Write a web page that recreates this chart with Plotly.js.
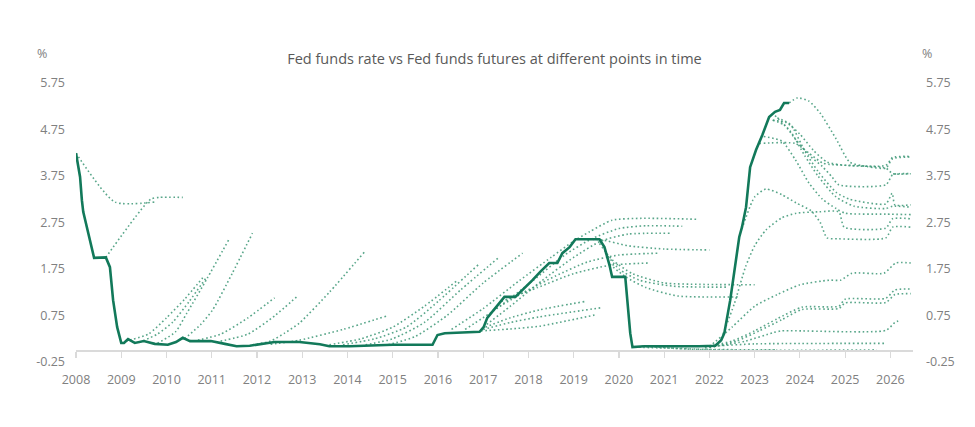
<!DOCTYPE html>
<html>
<head>
<meta charset="utf-8">
<script src="https://cdn.plot.ly/plotly-3.0.1.min.js"></script>
<style>html,body{margin:0;padding:0;background:#fff;}#chart{width:975px;height:427px;}</style>
</head>
<body>
<div id="chart"></div>
<script>
// ---------- data ----------
const chartTitle = "Fed funds rate vs Fed funds futures at different points in time";
const yearTicks = [2008,2009,2010,2011,2012,2013,2014,2015,2016,2017,2018,2019,2020,2021,2022,2023,2024,2025,2026];
const yearLabels = yearTicks.map(String);
const rateTicks = [-0.25,0.75,1.75,2.75,3.75,4.75,5.75];
const rateLabels = ["-0.25","0.75","1.75","2.75","3.75","4.75","5.75"];

// Fed funds rate [year, %]
const fedFundsRate = [[2008.0,4.24],[2008.09,3.73],[2008.13,3.23],[2008.16,2.98],[2008.40,1.99],[2008.66,2.0],[2008.75,1.79],[2008.82,1.08],[2008.91,0.5],[2009.0,0.16],[2009.06,0.16],[2009.15,0.24],[2009.30,0.16],[2009.50,0.2],[2009.74,0.14],[2010.03,0.12],[2010.21,0.18],[2010.36,0.27],[2010.52,0.2],[2010.98,0.2],[2011.29,0.14],[2011.55,0.09],[2011.84,0.1],[2012.17,0.14],[2012.39,0.18],[2012.94,0.18],[2013.39,0.13],[2013.6,0.09],[2014.05,0.09],[2015.0,0.12],[2015.88,0.12],[2015.99,0.33],[2016.15,0.37],[2016.92,0.4],[2017.01,0.5],[2017.09,0.7],[2017.2,0.83],[2017.36,1.02],[2017.47,1.15],[2017.71,1.15],[2017.87,1.3],[2018.09,1.51],[2018.26,1.69],[2018.46,1.88],[2018.64,1.88],[2018.75,2.09],[2018.91,2.22],[2019.04,2.39],[2019.57,2.39],[2019.68,2.22],[2019.79,1.84],[2019.85,1.58],[2020.14,1.58],[2020.19,1.08],[2020.25,0.37],[2020.30,0.07],[2020.56,0.09],[2021.77,0.09],[2022.13,0.1],[2022.26,0.22],[2022.33,0.37],[2022.46,1.08],[2022.59,1.94],[2022.66,2.44],[2022.72,2.65],[2022.81,3.08],[2022.90,3.94],[2023.03,4.31],[2023.17,4.63],[2023.32,5.02],[2023.45,5.13],[2023.56,5.17],[2023.65,5.32],[2023.76,5.32]];

// Fed funds futures curves at different points in time [year, %]
const fut2008a = [[2008.0,4.24],[2008.86,3.19],[2009.75,3.19]];
const fut2008b = [[2008.66,2.0],[2009.65,3.25],[2009.85,3.29],[2010.36,3.29]];
const fut2009a = [[2009.1,0.2],[2009.6,0.35],[2010.0,0.7],[2010.4,1.1],[2010.8,1.56]];
const fut2009b = [[2009.4,0.17],[2009.8,0.35],[2010.14,0.61],[2010.5,1.05],[2010.89,1.58]];
const fut2009c = [[2009.8,0.15],[2010.2,0.4],[2010.45,0.8],[2010.9,1.55],[2011.4,2.42]];
const fut2010a = [[2010.4,0.25],[2010.75,0.55],[2011.02,0.87],[2011.45,1.65],[2011.9,2.52]];
const fut2011a = [[2010.6,0.2],[2011.2,0.35],[2011.8,0.7],[2012.39,1.13]];
const fut2011b = [[2011.1,0.18],[2011.8,0.35],[2012.4,0.75],[2012.9,1.17]];
const fut2012a = [[2011.9,0.12],[2012.3,0.2],[2012.61,0.37],[2012.94,0.59],[2013.6,1.25],[2014.38,2.12]];
const fut2012b = [[2012.3,0.13],[2012.94,0.22],[2013.9,0.45],[2014.87,0.74]];
const fut2013a = [[2013.6,0.12],[2014.3,0.25],[2015.0,0.5],[2015.7,0.95],[2016.41,1.49]];
const fut2013b = [[2013.9,0.12],[2014.6,0.25],[2015.3,0.5],[2016.0,1.05],[2016.9,1.85]];
const fut2014a = [[2014.4,0.12],[2015.0,0.25],[2015.7,0.6],[2016.5,1.3],[2017.36,2.01]];
const fut2014b = [[2014.9,0.12],[2015.5,0.3],[2016.2,0.75],[2017.0,1.45],[2017.87,2.09]];
const fut2016a = [[2016.3,0.45],[2017.0,0.9],[2017.8,1.5],[2018.5,2.0],[2019.0,2.35],[2019.35,2.55],[2019.85,2.8],[2020.5,2.84],[2021.73,2.82]];
const fut2016b = [[2016.6,0.45],[2017.3,0.9],[2018.1,1.5],[2018.8,2.05],[2019.4,2.4],[2020.0,2.62],[2020.6,2.68],[2021.4,2.67]];
const fut2017a = [[2017.0,0.5],[2017.6,0.95],[2018.3,1.5],[2019.0,2.0],[2019.6,2.35],[2020.2,2.5],[2021.16,2.52]];
const fut2017b = [[2017.2,0.85],[2017.9,1.25],[2018.6,1.6],[2019.3,1.9],[2020.0,2.05],[2020.89,2.09]];
const fut2017c = [[2017.4,1.05],[2018.2,1.35],[2019.0,1.65],[2019.8,1.83],[2020.67,1.88]];
const fut2017d = [[2016.95,0.42],[2017.6,0.46],[2018.24,0.52],[2019.46,0.76]];
const fut2017e = [[2017.0,0.45],[2017.6,0.6],[2018.24,0.72],[2019.63,0.92]];
const fut2017f = [[2017.05,0.5],[2017.6,0.7],[2018.24,0.87],[2019.24,1.05]];
const fut2019a = [[2019.04,2.39],[2019.6,2.38],[2020.2,2.25],[2021.0,2.18],[2022.0,2.16]];
const fut2019b = [[2019.57,2.3],[2019.85,1.95],[2020.3,1.65],[2021.0,1.45],[2021.8,1.42],[2023.0,1.41]];
const fut2019c = [[2019.7,2.1],[2020.0,1.75],[2020.45,1.51],[2021.2,1.38],[2022.4,1.36]];
const fut2019d = [[2019.8,1.85],[2020.15,1.58],[2020.6,1.35],[2021.3,1.17],[2022.66,1.15]];
const fut2020a = [[2020.35,0.07],[2021.0,0.05],[2022.0,0.02],[2023.47,0.01]];
const fut2020b = [[2020.5,0.09],[2021.5,0.03],[2022.5,0.0],[2023.5,0.0],[2025.7,0.01]];
const fut2021a = [[2021.0,0.08],[2022.2,0.1],[2023.0,0.14],[2025.9,0.15]];
const fut2021b = [[2021.9,0.05],[2022.8,0.2],[2023.4,0.38],[2023.6,0.42],[2025.9,0.43],[2026.1,0.6],[2026.23,0.65]];
const fut2021c = [[2021.9,0.08],[2022.5,0.2],[2023.0,0.42],[2023.5,0.68],[2024.05,0.93],[2024.86,0.95],[2025.0,1.1],[2025.9,1.12],[2026.1,1.3],[2026.45,1.32]];
const fut2022a = [[2022.0,0.06],[2022.6,0.2],[2023.1,0.42],[2023.6,0.66],[2024.05,0.88],[2024.86,0.9],[2025.0,1.02],[2025.9,1.03],[2026.1,1.2],[2026.45,1.22]];
const fut2022b = [[2022.0,0.08],[2022.5,0.5],[2023.0,0.95],[2023.5,1.2],[2024.0,1.41],[2024.65,1.51],[2024.9,1.51],[2025.15,1.66],[2025.86,1.66],[2026.12,1.88],[2026.45,1.88]];
const fut2022c = [[2022.3,0.35],[2022.55,1.0],[2022.8,1.8],[2023.0,2.25],[2023.25,2.59],[2023.6,2.85],[2023.92,2.95],[2024.42,2.98],[2024.86,2.98],[2024.98,2.65],[2025.9,2.63],[2026.05,2.83],[2026.45,2.83]];
const fut2022d = [[2022.75,2.7],[2023.0,3.3],[2023.25,3.47],[2023.6,3.35],[2023.92,3.17],[2024.25,3.0],[2024.45,2.75],[2024.6,2.42],[2024.86,2.4],[2025.9,2.42],[2026.05,2.65],[2026.45,2.65]];
const fut2023a = [[2023.1,4.45],[2023.9,4.45],[2024.2,4.24],[2024.5,4.03],[2024.65,4.0],[2025.9,3.92],[2026.05,3.8],[2026.45,3.8]];
const fut2023b = [[2023.2,4.6],[2023.6,4.5],[2023.9,4.1],[2024.2,3.6],[2024.5,3.25],[2024.8,3.05],[2025.0,2.95],[2025.9,2.93],[2026.45,2.92]];
const fut2023c = [[2023.4,4.95],[2023.7,4.9],[2024.0,4.65],[2024.3,4.3],[2024.6,4.05],[2025.0,3.98],[2025.9,3.98],[2026.05,4.15],[2026.45,4.17]];
const fut2023d = [[2023.4,4.95],[2023.65,4.85],[2023.92,4.52],[2024.2,4.2],[2024.5,3.95],[2024.71,3.73],[2024.86,3.56],[2025.9,3.56],[2026.05,3.78],[2026.2,3.8],[2026.45,3.8]];
const fut2023e = [[2023.5,5.0],[2023.8,4.85],[2024.1,4.3],[2024.4,3.85],[2024.8,3.4],[2025.1,3.25],[2025.9,3.15],[2026.04,3.38],[2026.1,3.13],[2026.45,3.13]];
const fut2023f = [[2023.45,5.05],[2023.8,4.7],[2024.1,4.2],[2024.4,3.75],[2024.8,3.3],[2025.2,3.1],[2025.9,3.05],[2026.05,3.1],[2026.45,3.08]];
const fut2023g = [[2023.76,5.32],[2023.95,5.43],[2024.2,5.36],[2024.45,5.1],[2024.8,4.55],[2025.1,4.05],[2025.5,3.95],[2025.9,3.92],[2026.05,4.12],[2026.45,4.16]];

const futuresCurves = [fut2008a,fut2008b,fut2009a,fut2009b,fut2009c,fut2010a,fut2011a,fut2011b,fut2012a,fut2012b,
  fut2013a,fut2013b,fut2014a,fut2014b,fut2016a,fut2016b,fut2017a,fut2017b,fut2017c,fut2017d,fut2017e,fut2017f,
  fut2019a,fut2019b,fut2019c,fut2019d,fut2020a,fut2020b,fut2021a,fut2021b,fut2021c,fut2022a,fut2022b,fut2022c,fut2022d,
  fut2023a,fut2023b,fut2023c,fut2023d,fut2023e,fut2023f,fut2023g];

// ---------- chart ----------
const traces = futuresCurves.map(c => ({
  x: c.map(p => p[0]), y: c.map(p => p[1]),
  type: 'scatter', mode: 'lines', hoverinfo: 'skip', showlegend: false,
  line: {color: 'rgba(60,150,118,0.85)', width: 1.6, dash: '1.6px,2.6px', shape: 'spline', smoothing: 0.6}
}));
traces.push({
  x: fedFundsRate.map(p => p[0]), y: fedFundsRate.map(p => p[1]),
  type: 'scatter', mode: 'lines', showlegend: false,
  line: {color: '#12795a', width: 2.6}
});
// right axis companion (invisible)
traces.push({x: [2008], y: [0], yaxis: 'y2', mode: 'markers', marker: {opacity: 0}, showlegend: false, hoverinfo: 'skip'});

const tickFont = {family: 'Open Sans, sans-serif', size: 12.5, color: '#808080'};
const yRange = [-0.25, 5.75];

const layout = {
  width: 975, height: 427,
  margin: {l: 76, r: 62, t: 83, b: 65},
  paper_bgcolor: '#ffffff', plot_bgcolor: '#ffffff',
  title: {text: chartTitle, x: 0.5, xref: 'paper', xanchor: 'center', y: 1 - 59/427, yanchor: 'middle',
          font: {family: 'Open Sans, sans-serif', size: 14.5, color: '#595959'}},
  xaxis: {range: [2008, 2026.5], tickvals: yearTicks, ticktext: yearLabels, showgrid: false, zeroline: false,
          anchor: 'free', position: 0.25/6, showline: true, linecolor: '#dadada', linewidth: 1.5,
          ticks: 'outside', ticklen: 6, tickcolor: '#dadada', tickwidth: 1.2, ticklabelstandoff: 11,
          tickfont: tickFont, fixedrange: true},
  yaxis: {range: yRange, tickvals: rateTicks, ticktext: rateLabels, showgrid: false, zeroline: false,
          showline: false, ticks: '', tickfont: tickFont, ticklabelstandoff: 10, fixedrange: true},
  yaxis2: {range: yRange, tickvals: rateTicks, ticktext: rateLabels, overlaying: 'y', side: 'right',
           showgrid: false, zeroline: false, showline: false, ticks: '', tickfont: tickFont,
           ticklabelstandoff: 12, fixedrange: true},
  annotations: [
    {text: '%', xref: 'paper', yref: 'paper', x: -34/837, y: 1 + 30/279, xanchor: 'center', yanchor: 'middle',
     showarrow: false, font: tickFont},
    {text: '%', xref: 'paper', yref: 'paper', x: 1 + 14/837, y: 1 + 30/279, xanchor: 'center', yanchor: 'middle',
     showarrow: false, font: tickFont}
  ],
  showlegend: false
};

Plotly.newPlot('chart', traces, layout, {displayModeBar: false, staticPlot: true});
</script>
</body>
</html>
